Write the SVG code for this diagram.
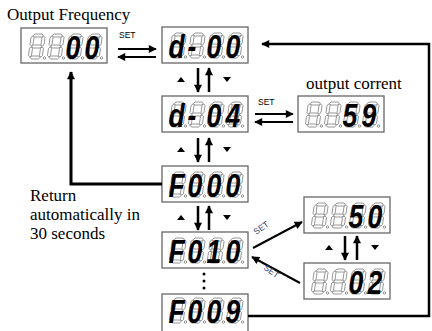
<svg xmlns="http://www.w3.org/2000/svg" width="432" height="331" viewBox="0 0 432 331">
<style>
.box{fill:#fff;stroke:#666;stroke-width:1.3}
.seg{fill:#fff;stroke:#333;stroke-width:0.5}
.lit{font-family:"Liberation Sans",Arial,sans-serif;font-weight:bold;font-style:italic;font-size:34px;fill:#000}
.lbl{font-family:"Liberation Serif","Times New Roman",serif;font-size:17px;fill:#000}
.set{font-family:"Liberation Sans",Arial,sans-serif;font-size:8.5px;fill:#000}
.setd{font-family:"Liberation Sans",Arial,sans-serif;font-size:8.5px;fill:#2e3f70}
.c{fill:none;stroke:#000}
.t2{stroke-width:2}
.t25{stroke-width:2.5}
.t3{stroke-width:3}
.tri{fill:#000}
</style>
<defs>
<marker id="ah" viewBox="0 0 10 10" refX="9" refY="5" markerWidth="9" markerHeight="8" markerUnits="userSpaceOnUse" orient="auto"><path d="M0,0 L10,5 L0,10 z" fill="#000"/></marker>
<g id="d8">
<g transform="translate(3.5,0) skewX(-8)" class="seg">
<polygon points="2,1.5 3.5,0 10.5,0 12,1.5 10.5,3 3.5,3"/>
<polygon points="2,12.5 3.5,11 10.5,11 12,12.5 10.5,14 3.5,14"/>
<polygon points="2,23.5 3.5,22 10.5,22 12,23.5 10.5,25 3.5,25"/>
<polygon points="1.5,2 3,3.5 3,10.5 1.5,12 0,10.5 0,3.5"/>
<polygon points="12.5,2 14,3.5 14,10.5 12.5,12 11,10.5 11,3.5"/>
<polygon points="1.5,13 3,14.5 3,21.5 1.5,23 0,21.5 0,14.5"/>
<polygon points="12.5,13 14,14.5 14,21.5 12.5,23 11,21.5 11,14.5"/>
</g>
<circle cx="16.5" cy="24" r="1.2" class="seg"/>
</g>
</defs>

<g id="labels">
<text class="lbl" x="7" y="20">Output Frequency</text>
<text class="lbl" x="306" y="89">output corrent</text>
<text class="lbl" x="30" y="201">Return</text>
<text class="lbl" x="30" y="220">automatically in</text>
<text class="lbl" x="30" y="239">30 seconds</text>
</g>

<g id="disp-output-frequency">
<rect class="box" x="21" y="28" width="86" height="35"/>
<use href="#d8" x="28" y="34"/><use href="#d8" x="47" y="34"/><use href="#d8" x="66" y="34"/><use href="#d8" x="85" y="34"/>
<text class="lit" transform="translate(65.5,59) scale(0.78,1)" x="0 24.36">00</text>
</g>

<g id="disp-d000">
<rect class="box" x="162" y="27" width="86" height="36"/>
<use href="#d8" x="169" y="33"/><use href="#d8" x="188" y="33"/><use href="#d8" x="207" y="33"/><use href="#d8" x="226" y="33"/>
<text class="lit" transform="translate(168.5,58) scale(0.78,1)" x="0 24.36 48.72 73.08">d-00</text>
</g>

<g id="disp-d001">
<rect class="box" x="162" y="96" width="86" height="36"/>
<use href="#d8" x="169" y="102"/><use href="#d8" x="188" y="102"/><use href="#d8" x="207" y="102"/><use href="#d8" x="226" y="102"/>
<text class="lit" transform="translate(168.5,127) scale(0.78,1)" x="0 24.36 48.72 73.08">d-04</text>
</g>

<g id="disp-output-current">
<rect class="box" x="298" y="96" width="86" height="36"/>
<use href="#d8" x="305" y="102"/><use href="#d8" x="324" y="102"/><use href="#d8" x="343" y="102"/><use href="#d8" x="362" y="102"/>
<text class="lit" transform="translate(342.5,127) scale(0.78,1)" x="0 24.36">59</text>
</g>

<g id="disp-F000">
<rect class="box" x="162" y="166" width="86" height="36"/>
<use href="#d8" x="169" y="172"/><use href="#d8" x="188" y="172"/><use href="#d8" x="207" y="172"/><use href="#d8" x="226" y="172"/>
<text class="lit" transform="translate(168.5,197) scale(0.78,1)" x="0 24.36 48.72 73.08">F000</text>
</g>

<g id="disp-F010">
<rect class="box" x="162" y="232" width="86" height="36"/>
<use href="#d8" x="169" y="238"/><use href="#d8" x="188" y="238"/><use href="#d8" x="207" y="238"/><use href="#d8" x="226" y="238"/>
<text class="lit" transform="translate(168.5,263) scale(0.78,1)" x="0 24.36 48.72 73.08">F010</text>
</g>

<g id="disp-F009">
<rect class="box" x="162" y="294" width="86" height="40"/>
<use href="#d8" x="169" y="298"/><use href="#d8" x="188" y="298"/><use href="#d8" x="207" y="298"/><use href="#d8" x="226" y="298"/>
<text class="lit" transform="translate(168.5,323) scale(0.78,1)" x="0 24.36 48.72 73.08">F009</text>
</g>

<g id="disp-50">
<rect class="box" x="304" y="197" width="86" height="36"/>
<use href="#d8" x="311" y="203"/><use href="#d8" x="330" y="203"/><use href="#d8" x="349" y="203"/><use href="#d8" x="368" y="203"/>
<text class="lit" transform="translate(348.5,228) scale(0.78,1)" x="0 24.36">50</text>
</g>

<g id="disp-02">
<rect class="box" x="304" y="263" width="86" height="36"/>
<use href="#d8" x="311" y="269"/><use href="#d8" x="330" y="269"/><use href="#d8" x="349" y="269"/><use href="#d8" x="368" y="269"/>
<text class="lit" transform="translate(348.5,294) scale(0.78,1)" x="0 24.36">02</text>
</g>

<g id="connectors">
<line class="c t2" x1="118" y1="49" x2="156" y2="49" marker-end="url(#ah)"/>
<line class="c t2" x1="156" y1="57" x2="118" y2="57" marker-end="url(#ah)"/>
<text class="set" x="119" y="38">SET</text>

<polyline class="c t25" points="248,316 429,316 429,44 262,44" marker-end="url(#ah)"/>
<polyline class="c t3" points="162,184 71,184 71,72" marker-end="url(#ah)"/>

<line class="c t2" x1="255" y1="114" x2="293" y2="114" marker-end="url(#ah)"/>
<line class="c t2" x1="293" y1="122" x2="255" y2="122" marker-end="url(#ah)"/>
<text class="set" x="258" y="105">SET</text>

<line class="c t2" x1="253" y1="248" x2="302" y2="222" marker-end="url(#ah)"/>
<text class="setd" transform="translate(256,235) rotate(-35)">SET</text>
<line class="c t2" x1="300" y1="283" x2="252" y2="257" marker-end="url(#ah)"/>
<text class="setd" transform="translate(263,269) rotate(35)">SET</text>

<g id="updown1">
<polygon class="tri" points="177,82 185,82 181,77"/>
<polygon class="tri" points="223,77 231,77 227,82"/>
<line class="c t25" x1="198" y1="68" x2="198" y2="92" marker-end="url(#ah)"/>
<line class="c t25" x1="209" y1="92" x2="209" y2="68" marker-end="url(#ah)"/>
</g>
<g id="updown2">
<polygon class="tri" points="177,152 185,152 181,147"/>
<polygon class="tri" points="223,147 231,147 227,152"/>
<line class="c t25" x1="198" y1="138" x2="198" y2="162" marker-end="url(#ah)"/>
<line class="c t25" x1="209" y1="162" x2="209" y2="138" marker-end="url(#ah)"/>
</g>
<g id="updown3">
<polygon class="tri" points="177,220 185,220 181,215"/>
<polygon class="tri" points="223,215 231,215 227,220"/>
<line class="c t25" x1="198" y1="206" x2="198" y2="230" marker-end="url(#ah)"/>
<line class="c t25" x1="209" y1="230" x2="209" y2="206" marker-end="url(#ah)"/>
</g>
<g id="updown4">
<polygon class="tri" points="325,250 333,250 329,245"/>
<polygon class="tri" points="371,245 379,245 375,250"/>
<line class="c t25" x1="345" y1="236" x2="345" y2="260" marker-end="url(#ah)"/>
<line class="c t25" x1="357" y1="260" x2="357" y2="236" marker-end="url(#ah)"/>
</g>

<circle cx="204" cy="274" r="1.5" fill="#000"/>
<circle cx="204" cy="281" r="1.5" fill="#000"/>
<circle cx="204" cy="288" r="1.5" fill="#000"/>
</g>
</svg>
